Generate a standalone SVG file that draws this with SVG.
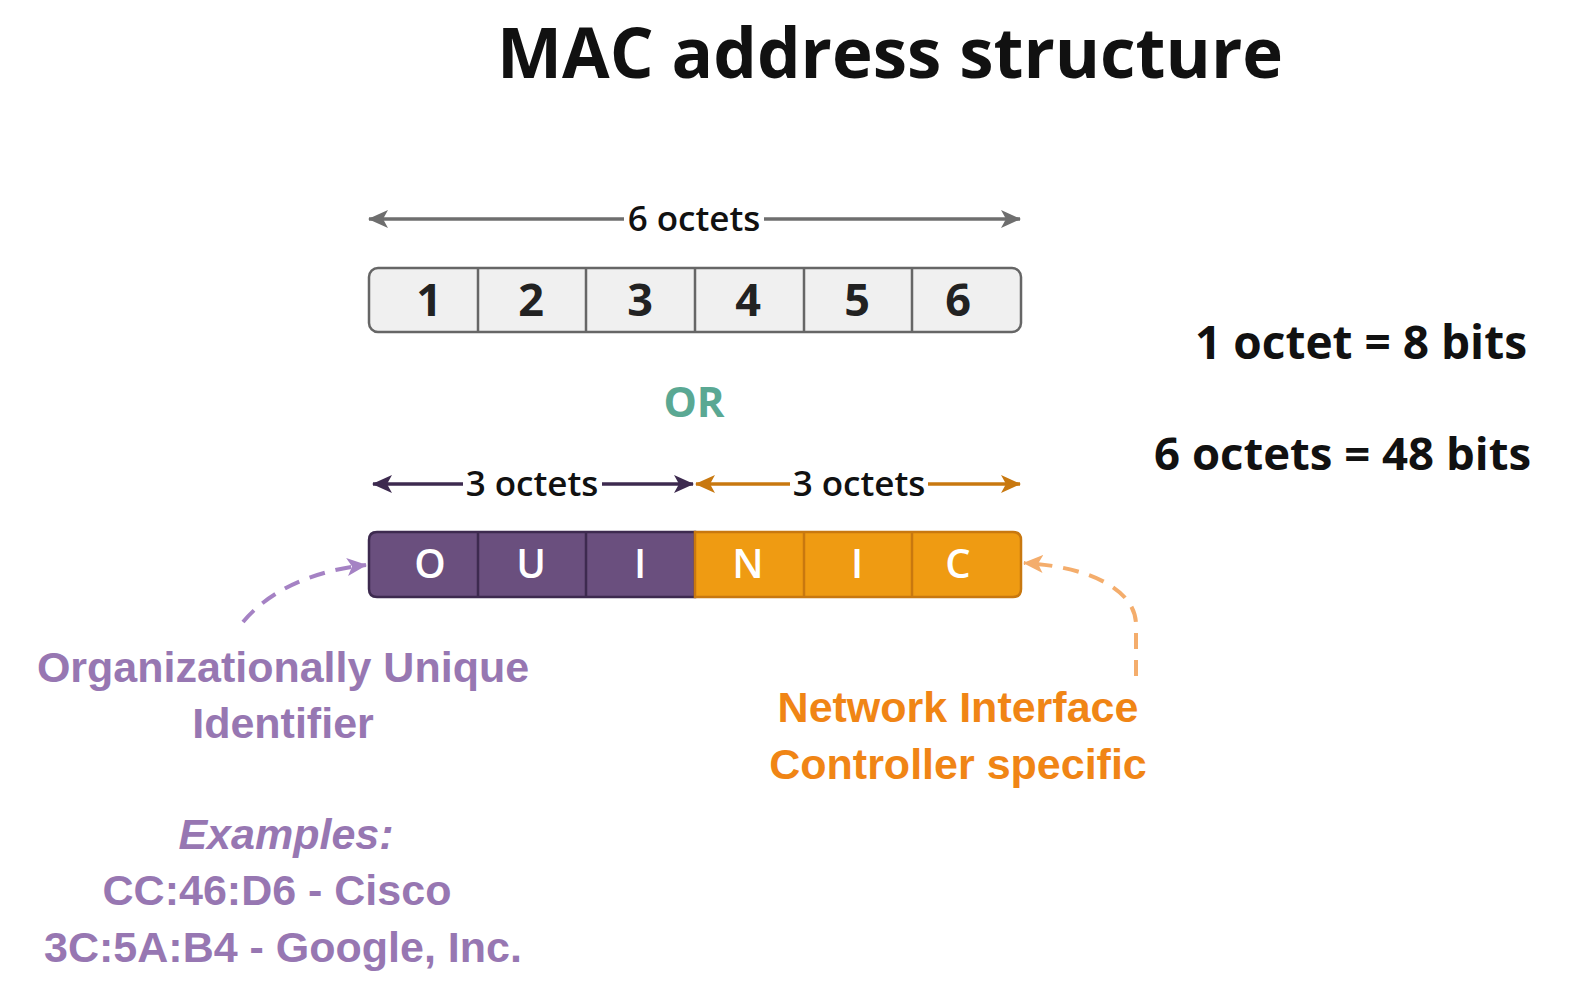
<svg xmlns="http://www.w3.org/2000/svg" width="1592" height="999" viewBox="0 0 1592 999">
<style>
.os{font-family:"Open Sans","Noto Sans","DejaVu Sans",sans-serif;font-weight:700}
.ar{font-family:"Liberation Sans",Arial,sans-serif;font-weight:700}
.c{text-anchor:middle}
.num{font-size:45px;fill:#222}
.let{font-size:40px;fill:#fff;font-weight:600}
.pur{fill:#9777b2;font-size:43px}
.ora{fill:#f08515;font-size:43px}
.oct{font-size:35px;fill:#111;font-weight:600}
</style>
<defs>
<marker id="mg" viewBox="0 0 20 18" refX="19" refY="9" markerWidth="20" markerHeight="18" markerUnits="userSpaceOnUse" orient="auto-start-reverse"><path d="M0,0 L20,9 L0,18 L5,9 z" fill="#6e6e6e"/></marker>
<marker id="mp" viewBox="0 0 20 18" refX="19" refY="9" markerWidth="20" markerHeight="18" markerUnits="userSpaceOnUse" orient="auto-start-reverse"><path d="M0,0 L20,9 L0,18 L5,9 z" fill="#3d2a4f"/></marker>
<marker id="mo" viewBox="0 0 20 18" refX="19" refY="9" markerWidth="20" markerHeight="18" markerUnits="userSpaceOnUse" orient="auto-start-reverse"><path d="M0,0 L20,9 L0,18 L5,9 z" fill="#c8780f"/></marker>
<marker id="ml" viewBox="0 0 20 18" refX="19" refY="9" markerWidth="20" markerHeight="18" markerUnits="userSpaceOnUse" orient="auto"><path d="M0,0 L20,9 L0,18 L5,9 z" fill="#a582c4"/></marker>
<marker id="mr" viewBox="0 0 20 18" refX="19" refY="9" markerWidth="20" markerHeight="18" markerUnits="userSpaceOnUse" orient="auto"><path d="M0,0 L20,9 L0,18 L5,9 z" fill="#f4ad6c"/></marker>
</defs>
<rect width="1592" height="999" fill="#fff"/>
<g id="title"><text class="os c" x="890" y="78" font-size="69" font-weight="700" fill="#111">MAC address structure</text></g>

<g id="connectors">
<line x1="369" y1="219" x2="624" y2="219" stroke="#6e6e6e" stroke-width="3.5" marker-start="url(#mg)"/>
<line x1="764" y1="219" x2="1020" y2="219" stroke="#6e6e6e" stroke-width="3.5" marker-end="url(#mg)"/>
<line x1="373" y1="484" x2="463" y2="484" stroke="#3d2a4f" stroke-width="3.5" marker-start="url(#mp)"/>
<line x1="602" y1="484" x2="693" y2="484" stroke="#3d2a4f" stroke-width="3.5" marker-end="url(#mp)"/>
<line x1="696" y1="484" x2="790" y2="484" stroke="#c8780f" stroke-width="3.5" marker-start="url(#mo)"/>
<line x1="928" y1="484" x2="1020" y2="484" stroke="#c8780f" stroke-width="3.5" marker-end="url(#mo)"/>
<path d="M243,622 C268,592 310,571 366,565" fill="none" stroke="#a582c4" stroke-width="4" stroke-dasharray="16,11" marker-end="url(#ml)"/>
<path d="M1136,676 L1136,625 C1136,588 1085,566 1024,563" fill="none" stroke="#f4ad6c" stroke-width="4" stroke-dasharray="16,11" marker-end="url(#mr)"/>
</g>

<g id="label-6octets"><text class="os c oct" x="694" y="231">6 octets</text></g>

<g id="octets-box">
<rect x="369" y="268" width="652" height="64" rx="9" fill="#f0f0f0" stroke="#666" stroke-width="2.5"/>
<g stroke="#666" stroke-width="2.5">
<line x1="478" y1="269" x2="478" y2="331"/><line x1="586" y1="269" x2="586" y2="331"/><line x1="695" y1="269" x2="695" y2="331"/><line x1="804" y1="269" x2="804" y2="331"/><line x1="912" y1="269" x2="912" y2="331"/>
</g>
<text class="os c num" x="429" y="316">1</text>
<text class="os c num" x="531" y="316">2</text>
<text class="os c num" x="640" y="316">3</text>
<text class="os c num" x="748" y="316">4</text>
<text class="os c num" x="857" y="316">5</text>
<text class="os c num" x="958" y="316">6</text>
</g>

<g id="or"><text class="os c" x="694" y="417" font-size="42" font-weight="700" fill="#5aa893">OR</text></g>

<g id="label-3octets-left"><text class="os c oct" x="532" y="496">3 octets</text></g>
<g id="label-3octets-right"><text class="os c oct" x="859" y="496">3 octets</text></g>

<g id="oui-nic-box">
<path d="M695,532 H377 Q369,532 369,540 V589 Q369,597 377,597 H695 Z" fill="#6a4f7e" stroke="#3d2a4f" stroke-width="2.5"/>
<path d="M695,532 H1013 Q1021,532 1021,540 V589 Q1021,597 1013,597 H695 Z" fill="#ef9b12" stroke="#c8780f" stroke-width="2.5"/>
<g stroke-width="2.5">
<line x1="478" y1="533" x2="478" y2="596" stroke="#3d2a4f"/><line x1="586" y1="533" x2="586" y2="596" stroke="#3d2a4f"/>
<line x1="804" y1="533" x2="804" y2="596" stroke="#c8780f"/><line x1="912" y1="533" x2="912" y2="596" stroke="#c8780f"/>
</g>
<text class="os c let" x="430" y="578">O</text>
<text class="os c let" x="531" y="578">U</text>
<text class="os c let" x="640" y="578">I</text>
<text class="os c let" x="748" y="578">N</text>
<text class="os c let" x="857" y="578">I</text>
<text class="os c let" x="958" y="578">C</text>
</g>

<g id="oui-label">
<text class="ar c pur" x="283" y="682">Organizationally Unique</text>
<text class="ar c pur" x="283" y="738">Identifier</text>
</g>
<g id="examples">
<text class="ar c pur" x="286" y="849" font-style="italic">Examples:</text>
<text class="ar c pur" x="277" y="905">CC:46:D6 - Cisco</text>
<text class="ar c pur" x="283" y="962">3C:5A:B4 - Google, Inc.</text>
</g>
<g id="nic-label">
<text class="ar c ora" x="958" y="722">Network Interface</text>
<text class="ar c ora" x="958" y="779">Controller specific</text>
</g>
<g id="bits">
<text class="os" x="1527" y="359" font-size="46" font-weight="600" fill="#111" text-anchor="end">1 octet = 8 bits</text>
<text class="os" x="1531" y="470" font-size="45.5" font-weight="600" fill="#111" text-anchor="end">6 octets = 48 bits</text>
</g>
</svg>
